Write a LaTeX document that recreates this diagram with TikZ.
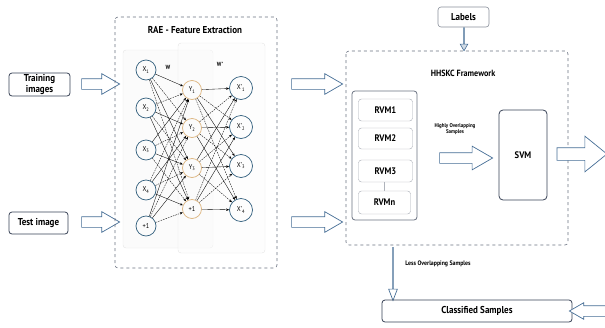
\documentclass[tikz,border=0pt]{standalone}
\usepackage{fontspec}
\setmainfont{PT Sans}[FakeStretch=0.9]
\usetikzlibrary{shapes.arrows,arrows.meta,positioning}

\definecolor{arrowblue}{RGB}{70,110,150}
\definecolor{boxline}{RGB}{55,65,85}
\definecolor{nodeblue}{RGB}{50,95,125}
\definecolor{hidorange}{RGB}{220,180,125}
\definecolor{panelgrey}{RGB}{228,228,228}

\tikzset{
  inbox/.style={draw=boxline, rounded corners=3pt, line width=.8pt, font=\bfseries, align=center, inner sep=0pt},
  frame/.style={draw=boxline!75, dashed, line width=.6pt, rounded corners=3pt},
  blockarrow/.style={single arrow, draw=arrowblue, fill=white, line width=.7pt, inner sep=0pt, inner ysep=5pt, single arrow head extend=5pt, single arrow tip angle=60},
  neuron/.style={circle, draw=nodeblue, line width=.7pt, minimum size=20pt, inner sep=0pt, font=\fontsize{7}{8}\selectfont},
  hid/.style={neuron, draw=hidorange, minimum size=19pt},
  outn/.style={neuron, minimum size=23pt},
  wire/.style={-{Stealth[length=3pt,width=2.4pt]}, line width=.35pt},
  dashwire/.style={wire, dash pattern=on 1.6pt off 1pt},
  rvmbox/.style={draw=boxline!45, rounded corners=3pt, minimum width=54pt, font=\bfseries\fontsize{9.5}{10}\selectfont},
  tinytext/.style={font=\bfseries\fontsize{5.5}{6.5}\selectfont, align=center}
}

\begin{document}
\begin{tikzpicture}[x=1pt,y=-1pt]
\useasboundingbox (0,0) rectangle (605,327);

% inputs
\node[inbox, minimum width=61pt, minimum height=23pt] (train) at (39.5,84.5) {Training\\[-1pt]images};
\node[inbox, minimum width=59pt, minimum height=22pt] (test) at (38.5,223) {Test image};
\node[blockarrow, minimum height=38pt] (a1) at (96,84) {};
\node[blockarrow, minimum height=38pt] (a2) at (96,222) {};

% RAE
\draw[frame] (115,17) rectangle (277,268);
\node[font=\bfseries\fontsize{10}{11}\selectfont] (raetitle) at (195,30) {RAE - Feature Extraction};
\draw[draw=panelgrey, fill=gray!3, rounded corners=3pt] (123,50) rectangle (213,248);
\draw[draw=panelgrey, fill=gray!2, fill opacity=.5, rounded corners=3pt] (178,43) rectangle (265,253);
\node[font=\bfseries\fontsize{6}{7}\selectfont] (w1) at (168,67) {W};
\node[font=\bfseries\fontsize{6}{7}\selectfont] (w2) at (220,64) {W'};

\foreach \yy/\lab [count=\i] in {70/{X\textsubscript{1}},108/{X\textsubscript{2}},150/{X\textsubscript{3}},190/{X\textsubscript{4}},226/{+1}}
  \node[neuron] (in\i) at (146,\yy) {\lab};
\foreach \yy/\lab [count=\i] in {90/{Y\textsubscript{1}},128/{Y\textsubscript{2}},168/{Y\textsubscript{3}},209/{+1}}
  \node[hid] (hid\i) at (192,\yy) {\lab};
\foreach \yy [count=\i] in {88,127,166,210}
  \node[outn] (out\i) at (241,\yy) {X'\textsubscript{\i}};

\foreach \i in {1,...,5}
  \foreach \j in {1,...,4}{
    \pgfmathtruncatemacro\pat{mod(\i+\j,2)}
    \ifnum\pat=0 \draw[wire] (in\i) -- (hid\j); \else \draw[dashwire] (in\i) -- (hid\j); \fi
  }
\foreach \i in {1,...,4}
  \foreach \j in {1,...,4}{
    \pgfmathtruncatemacro\pat{mod(\i+\j,2)}
    \ifnum\pat=0 \draw[wire] (hid\i) -- (out\j); \else \draw[dashwire] (hid\i) -- (out\j); \fi
  }

\node[blockarrow, minimum height=51pt] (a3) at (312.5,84) {};
\node[blockarrow, minimum height=51pt] (a4) at (312.5,222) {};

% HHSKC
\node[inbox, draw=boxline!60, line width=.6pt, minimum width=51pt, minimum height=20pt] (labels) at (463.5,17) {Labels};
\draw[frame] (346,51) rectangle (568,245);
\node[single arrow, draw=arrowblue, fill=arrowblue!25, line width=.6pt, inner sep=0pt, inner ysep=1.6pt, single arrow head extend=3.5pt, single arrow tip angle=60, shape border rotate=270, minimum height=23pt] (a5) at (464,39) {};
\node[font=\bfseries\fontsize{9}{10}\selectfont] (hhtitle) at (463,73) {HHSKC Framework};

\draw[draw=boxline!75, line width=.8pt, rounded corners=3pt] (352,91) rectangle (417,220);
\node[rvmbox, minimum height=22pt] (rvm1) at (385.5,110) {RVM1};
\node[rvmbox, minimum height=21pt] (rvm2) at (385.5,138.5) {RVM2};
\node[rvmbox, minimum height=22pt] (rvm3) at (385.5,171) {RVM3};
\node[rvmbox, minimum width=52pt, minimum height=23pt] (rvmn) at (384.5,202.5) {RVMn};
\draw[draw=boxline!40] (rvm3.south -| 384,0) -- (rvmn.north -| 384,0);

\node[tinytext] (hitext) at (455,129) {Highly Overlapping\\Samples};
\node[blockarrow, inner ysep=5pt, single arrow head extend=6.5pt, minimum height=53pt] (a6) at (461.5,158) {};
\node[draw=boxline, line width=.8pt, rounded corners=4pt, minimum width=48pt, minimum height=90pt, font=\bfseries\fontsize{9.5}{10}\selectfont] (svm) at (523,155) {SVM};
\node[blockarrow, inner ysep=6pt, single arrow head extend=11.5pt, single arrow tip angle=78, minimum height=50pt] (a7) at (578,154) {};

% output
\node[blockarrow, inner ysep=6pt, single arrow head extend=4pt, single arrow tip angle=42, shape border rotate=270, minimum height=53pt] (a8) at (393,273.5) {};
\node[tinytext, font=\bfseries\fontsize{6.5}{7.5}\selectfont] (lotext) at (438,264) {Less Overlapping Samples};
\node[inbox, minimum width=190pt, minimum height=22pt] (classified) at (477,311) {Classified Samples};
\node[blockarrow, inner ysep=5pt, single arrow head extend=3pt, single arrow tip angle=60, shape border rotate=180, minimum height=36pt] (a9) at (592,311) {};
\end{tikzpicture}
\end{document}
